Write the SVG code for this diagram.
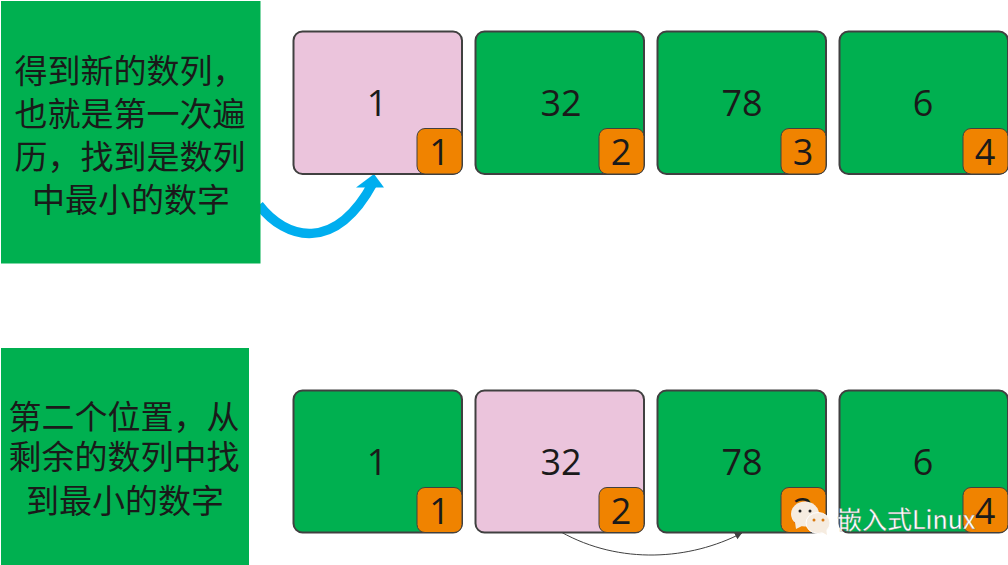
<svg xmlns="http://www.w3.org/2000/svg" width="1008" height="565" viewBox="0 0 1008 565">
<style>
.cell{stroke:#404040;stroke-width:2}
.g{fill:#00b050}
.p{fill:#ebc4dc}
.b{fill:#f08300;stroke:#404040;stroke-width:1}
.n{font-family:"Open Sans","Noto Sans",sans-serif;font-size:36px;fill:#1a1a1a;text-anchor:middle}
.cap{font-family:"Noto Sans CJK SC",sans-serif;font-size:33px;fill:#1a1a1a;text-anchor:middle}
.wm{font-family:"Noto Sans CJK SC",sans-serif;font-size:25px;fill:#fff;stroke:#777;stroke-width:.3}
</style>
<defs>
<marker id="thin" markerUnits="userSpaceOnUse" markerWidth="8" markerHeight="8" refX="7" refY="4" orient="auto"><path d="M0 0.5L7 4L0 7.5z" fill="#404040"/></marker>
</defs>
<g id="connectors">
<path d="M259 205C286 240 335 253 373 183" fill="none" stroke="#00aeef" stroke-width="9.500"/>
<path d="M374 174L384 187.500L356 187.500z" fill="#00aeef"/>
<path d="M561 532C620 565 690 560 742 533" fill="none" stroke="#404040" stroke-width="1" marker-end="url(#thin)"/>
</g>
<g id="caption1"><rect x="1" y="1" width="259.500" height="262.500" fill="#00b050"/>
<text class="cap" x="130" y="82.500" xml:space="preserve">得到新的数列，</text>
<text class="cap" x="130" y="125.500">也就是第一次遍</text>
<text class="cap" x="130" y="168.500">历，找到是数列</text>
<text class="cap" x="131" y="211.500">中最小的数字</text></g>
<g id="caption2"><rect x="1" y="348" width="248" height="217" fill="#00b050"/>
<text class="cap" x="124" y="429">第二个位置，从</text>
<text class="cap" x="124" y="468.500">剩余的数列中找</text>
<text class="cap" x="125" y="512.500">到最小的数字</text></g>
<g id="r1c1"><rect class="cell p" x="293.500" y="31.500" width="168.500" height="142.500" rx="9"/><text class="n" x="377" y="116">1</text><rect class="b" x="417" y="128.500" width="45" height="45.500" rx="8"/><text class="n" x="439.500" y="165">1</text></g>
<g id="r1c2"><rect class="cell g" x="475.500" y="31.500" width="168.500" height="142.500" rx="9"/><text class="n" x="561" y="116">32</text><rect class="b" x="599" y="128.500" width="45" height="45.500" rx="8"/><text class="n" x="621" y="165">2</text></g>
<g id="r1c3"><rect class="cell g" x="657.500" y="31.500" width="168.500" height="142.500" rx="9"/><text class="n" x="742" y="116">78</text><rect class="b" x="781" y="128.500" width="45" height="45.500" rx="8"/><text class="n" x="803" y="165">3</text></g>
<g id="r1c4"><rect class="cell g" x="839.500" y="31.500" width="168.500" height="142.500" rx="9"/><text class="n" x="923" y="116">6</text><rect class="b" x="963" y="128.500" width="45" height="45.500" rx="8"/><text class="n" x="985" y="165">4</text></g>
<g id="r2c1"><rect class="cell g" x="293.500" y="390.500" width="168.500" height="142" rx="9"/><text class="n" x="377" y="475">1</text><rect class="b" x="417" y="487.500" width="45" height="45" rx="8"/><text class="n" x="439.500" y="524">1</text></g>
<g id="r2c2"><rect class="cell p" x="475.500" y="390.500" width="168.500" height="142" rx="9"/><text class="n" x="561" y="475">32</text><rect class="b" x="599" y="487.500" width="45" height="45" rx="8"/><text class="n" x="621" y="524">2</text></g>
<g id="r2c3"><rect class="cell g" x="657.500" y="390.500" width="168.500" height="142" rx="9"/><text class="n" x="742" y="475">78</text><rect class="b" x="781" y="487.500" width="45" height="45" rx="8"/><text class="n" x="803" y="524">3</text></g>
<g id="r2c4"><rect class="cell g" x="839.500" y="390.500" width="168.500" height="142" rx="9"/><text class="n" x="923" y="475">6</text><rect class="b" x="963" y="487.500" width="45" height="45" rx="8"/><text class="n" x="985" y="524">4</text></g>
<g id="watermark">
<ellipse cx="805" cy="514" rx="14" ry="12.500" fill="#f6ece0"/><path d="M795 522L796 529L804 525z" fill="#f6ece0"/>
<circle cx="800" cy="511" r="1.500" fill="#222"/><circle cx="810" cy="511" r="1.500" fill="#222"/>
<ellipse cx="818" cy="523" rx="12" ry="10.500" fill="#f6ece0" stroke="#fff"/><path d="M820 531L827 535L826 528z" fill="#f6ece0"/>
<circle cx="814" cy="520" r="1.500" fill="#d97a10"/><circle cx="823" cy="520" r="1.500" fill="#d97a10"/>
<text class="wm" x="837" y="529">嵌入式Linux</text>
</g>
</svg>
